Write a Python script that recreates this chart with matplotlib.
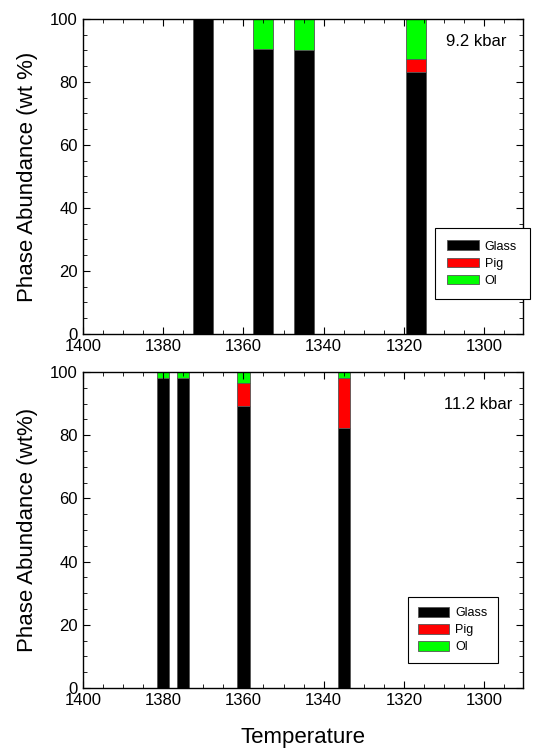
import matplotlib
matplotlib.use("Agg")
import matplotlib.pyplot as plt
from matplotlib.ticker import MultipleLocator

plt.rcParams["font.family"] = ["Liberation Sans", "DejaVu Sans"]

# 9.2 kbar runs
temps_92 = [1370, 1355, 1345, 1317]
glass_92 = [100.0, 90.6, 90.0, 83.1]
pig_92 = [0.0, 0.0, 0.0, 4.1]
ol_92 = [0.0, 9.4, 10.0, 12.8]

# 11.2 kbar runs
temps_112 = [1380, 1375, 1360, 1335]
glass_112 = [98.1, 98.1, 89.3, 82.2]
pig_112 = [0.0, 0.0, 7.2, 16.0]
ol_112 = [1.9, 1.9, 3.5, 1.8]

phase_colors = {"Glass": "#000000", "Pig": "#ff0000", "Ol": "#00ff00"}


def draw_panel(ax, temps, glass, pig, ol, width, ylabel, label, label_x, label_y):
    bottom_ol = [g + p for g, p in zip(glass, pig)]
    kw = dict(width=width, edgecolor="#555555", linewidth=0.6)
    ax.bar(temps, glass, color=phase_colors["Glass"], label="Glass", **kw)
    ax.bar(temps, pig, bottom=glass, color=phase_colors["Pig"], label="Pig", **kw)
    ax.bar(temps, ol, bottom=bottom_ol, color=phase_colors["Ol"], label="Ol", **kw)
    ax.set_xlim(1400, 1290.4)
    ax.set_ylim(0, 100)
    ax.xaxis.set_major_locator(MultipleLocator(20))
    ax.xaxis.set_minor_locator(MultipleLocator(5))
    ax.yaxis.set_major_locator(MultipleLocator(20))
    ax.yaxis.set_minor_locator(MultipleLocator(5))
    ax.tick_params(which="both", direction="in", top=True, right=True, labelsize=12)
    ax.tick_params(which="major", length=5)
    ax.tick_params(which="minor", length=3)
    for s in ax.spines.values():
        s.set_linewidth(1.0)
    ax.set_ylabel(ylabel, fontsize=16, labelpad=9)
    ax.text(label_x, label_y, label, transform=ax.transAxes, ha="right", va="center",
            fontsize=12)
    return ax


fig = plt.figure(figsize=(5.34, 7.51), dpi=100)
ax1 = fig.add_axes([0.155, 0.5553, 0.824, 0.4194])
ax2 = fig.add_axes([0.155, 0.0839, 0.824, 0.4208])

draw_panel(ax1, temps_92, glass_92, pig_92, ol_92, 5.0,
           "Phase Abundance (wt %)", "9.2 kbar", 0.964, 0.93)
draw_panel(ax2, temps_112, glass_112, pig_112, ol_112, 3.1,
           "Phase Abundance (wt%)", "11.2 kbar", 0.977, 0.896)
ax2.set_xlabel("Temperature", fontsize=16, labelpad=14)

leg_kw = dict(fontsize=9, frameon=True, fancybox=False, edgecolor="black",
              framealpha=1, handlelength=2.5, handleheight=0.8, labelspacing=0.4,
              handletextpad=0.5, borderaxespad=0)
l1 = ax1.legend(loc="upper left", bbox_to_anchor=(0.80, 0.3365), borderpad=1.0, **leg_kw)
l1.get_frame().set_linewidth(0.8)
l2 = ax2.legend(loc="upper left", bbox_to_anchor=(0.739, 0.288), borderpad=0.8, **leg_kw)
l2.get_frame().set_linewidth(0.8)

fig.savefig("out.png", dpi=100)
